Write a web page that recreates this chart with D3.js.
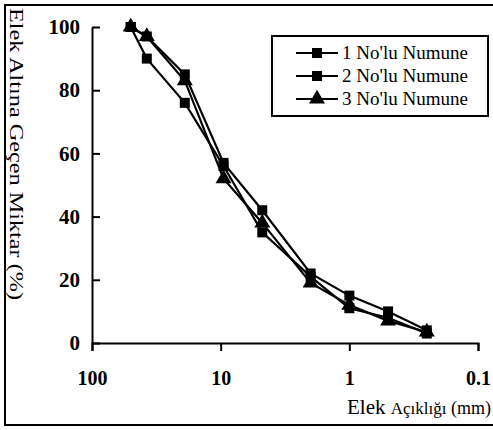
<!DOCTYPE html>
<html>
<head>
<meta charset="utf-8">
<script src="https://cdn.jsdelivr.net/npm/d3@7"></script>
<style>
  html, body { margin: 0; padding: 0; background: #fff; }
  svg { display: block; }
  text { font-family: "Liberation Serif", "Times New Roman", serif; fill: #000; }
</style>
</head>
<body>
<svg id="chart" width="493" height="430"></svg>
<script>
// ---- data ----
const sieveSizes = [50, 37.5, 19, 9.5, 4.75, 2, 1, 0.5, 0.25];
const sample1 = [100, 97, 85, 57, 42, 22, 15, 10, 4];
const sample2 = [100, 90, 76, 56, 35, 21, 11, 8, 3];
const sample3 = [100, 97, 83, 52, 38, 19, 12, 7, 3.5];
const seriesNames = ["1 No'lu Numune", "2 No'lu Numune", "3 No'lu Numune"];
const xTicks = [100, 10, 1, 0.1];
const xTickLabels = ["100", "10", "1", "0.1"];
const yTicks = [0, 20, 40, 60, 80, 100];

const series = [
  { name: seriesNames[0], values: sample1, marker: "square" },
  { name: seriesNames[1], values: sample2, marker: "square" },
  { name: seriesNames[2], values: sample3, marker: "triangle" }
];

const svg = d3.select("#chart");

// outer frame
svg.append("rect")
  .attr("x", 5).attr("y", 5).attr("width", 496).attr("height", 420)
  .attr("fill", "none").attr("stroke", "#000").attr("stroke-width", 2);

const x = d3.scaleLog().domain([100, 0.1]).range([92, 478]);
const y = d3.scaleLinear().domain([0, 100]).range([343, 27]);

// x axis
const xAxis = d3.axisBottom(x).tickValues(xTicks)
  .tickFormat((d, i) => xTickLabels[i]).tickSize(8).tickPadding(20);
const gx = svg.append("g").attr("transform", `translate(0,${y(0)})`).call(xAxis);
gx.select(".domain").attr("stroke-width", 2);
gx.selectAll(".tick line").attr("stroke-width", 2);
gx.selectAll(".tick text").attr("font-size", 20).attr("font-family", "Liberation Serif").attr("font-weight", "bold");

// y axis (ticks inward)
const yAxis = d3.axisLeft(y).tickValues(yTicks).tickSize(-8).tickSizeOuter(0).tickPadding(12);
const gy = svg.append("g").attr("transform", `translate(${x(100)},0)`).call(yAxis);
gy.select(".domain").attr("stroke-width", 2);
gy.selectAll(".tick line").attr("stroke-width", 2);
gy.selectAll(".tick text").attr("font-size", 21).attr("font-family", "Liberation Serif").attr("font-weight", "bold");

// axis titles
svg.append("text")
  .attr("transform", "translate(10,8) rotate(90)")
  .attr("x", 0).attr("y", 0)
  .attr("font-size", 19)
  .attr("textLength", 292).attr("lengthAdjust", "spacingAndGlyphs")
  .text("Elek Altına Geçen Miktar (%)");

const xt = svg.append("text")
  .attr("x", 491).attr("y", 414)
  .attr("text-anchor", "end");
xt.append("tspan").attr("font-size", 21).text("Elek ");
xt.append("tspan").attr("font-size", 17).text("Açıklığı");
xt.append("tspan").attr("font-size", 18).text(" (mm)");

// lines
const line = d3.line()
  .x((d, i) => x(sieveSizes[i]))
  .y(d => y(d));

const gS = svg.append("g");
series.forEach(s => {
  gS.append("path")
    .datum(s.values)
    .attr("d", line)
    .attr("fill", "none")
    .attr("stroke", "#000")
    .attr("stroke-width", 2.2);
});

const sq = d3.symbol().type(d3.symbolSquare).size(100);
const tri = d3.symbol().type(d3.symbolTriangle).size(110);

series.forEach(s => {
  gS.selectAll(null)
    .data(s.values)
    .enter().append("path")
    .attr("transform", (d, i) => `translate(${x(sieveSizes[i])},${y(d)})`)
    .attr("d", s.marker === "triangle" ? tri : sq)
    .attr("fill", "#000");
});

// legend
const lg = svg.append("g");
lg.append("rect")
  .attr("x", 272).attr("y", 36).attr("width", 216).attr("height", 80)
  .attr("fill", "#fff").attr("stroke", "#000").attr("stroke-width", 2);
const rowY = [53, 76, 99];
series.forEach((s, i) => {
  lg.append("line")
    .attr("x1", 296).attr("x2", 338)
    .attr("y1", rowY[i]).attr("y2", rowY[i])
    .attr("stroke", "#000").attr("stroke-width", 2.2);
  lg.append("path")
    .attr("transform", `translate(317,${rowY[i]})`)
    .attr("d", s.marker === "triangle" ? tri : sq)
    .attr("fill", "#000");
  lg.append("text")
    .attr("x", 342).attr("y", rowY[i]).attr("dy", "0.35em")
    .attr("font-size", 18)
    .attr("textLength", 126).attr("lengthAdjust", "spacingAndGlyphs")
    .text(s.name);
});
</script>
</body>
</html>
